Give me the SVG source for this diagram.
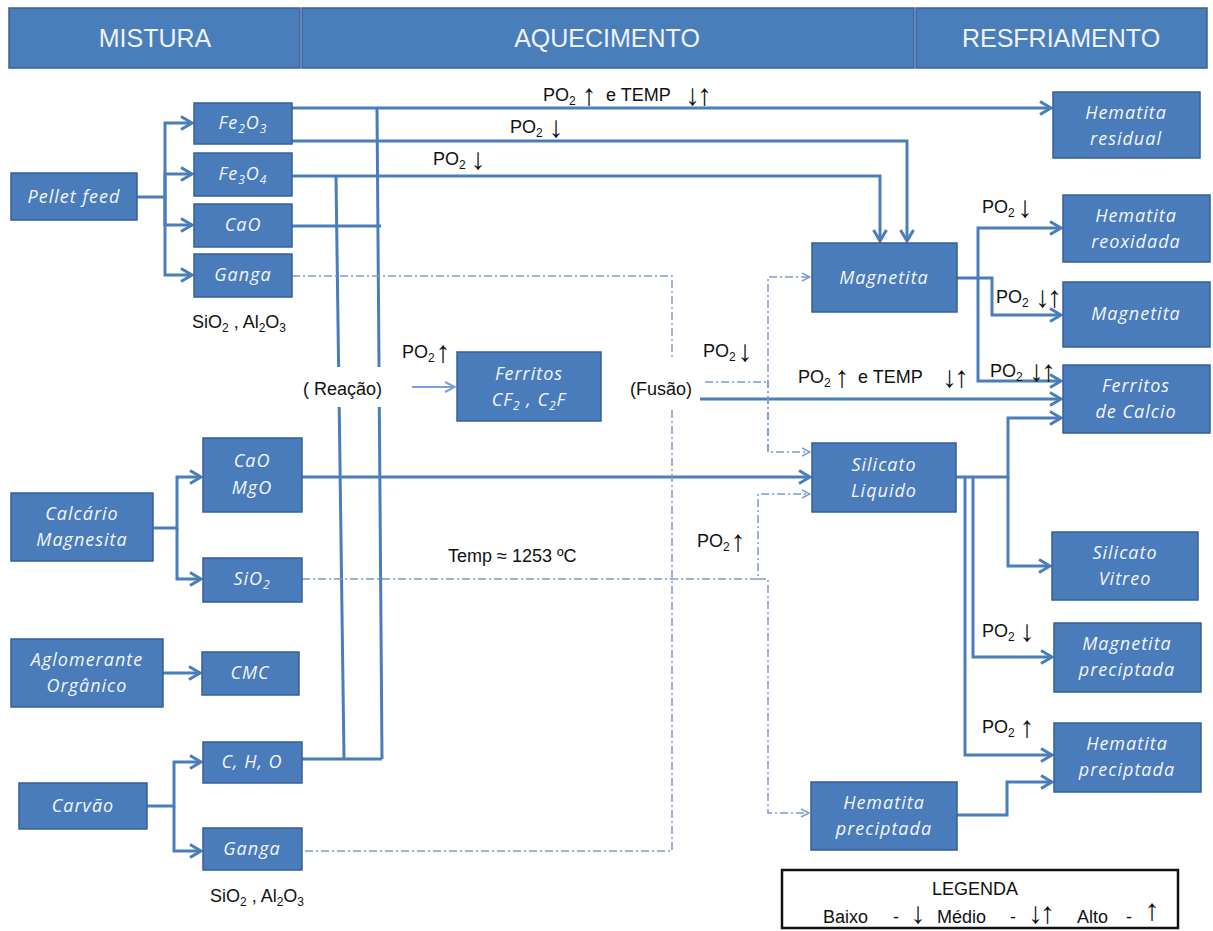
<svg xmlns="http://www.w3.org/2000/svg" width="1213" height="931" viewBox="0 0 1213 931">
<style>
.hdr{fill:#4a7ebb;stroke:#3a6298;stroke-width:1.5}
.hdrt{font-family:"Liberation Sans",Arial,sans-serif;font-size:25px;fill:#eef3fb;text-anchor:middle}
.box{fill:#4a7cbc;stroke:#36609a;stroke-width:1.5}
.bt{font-family:"Open Sans","Noto Sans",sans-serif;font-style:italic;font-size:18px;letter-spacing:1px;fill:#f2f6fc;text-anchor:middle}
.lbl{font-family:"Liberation Sans","DejaVu Sans",sans-serif;font-size:18px;fill:#111}
.ar{font-family:"Liberation Sans","DejaVu Sans",sans-serif;font-size:30px;text-anchor:middle;fill:#111}
.ln{fill:none;stroke:#4a7ebb;stroke-width:3}
.la{fill:none;stroke:#4a7ebb;stroke-width:3;marker-end:url(#arr)}
.dd{fill:none;stroke:#7d9ccc;stroke-width:1.5;stroke-dasharray:8 3 2 3}
.da{fill:none;stroke:#7d9ccc;stroke-width:1.5;stroke-dasharray:8 3 2 3;marker-end:url(#arrd)}
</style>
<defs>
<marker id="arr" markerUnits="userSpaceOnUse" viewBox="0 0 16 16" refX="13" refY="8" markerWidth="16" markerHeight="16" orient="auto"><path d="M2,1.5 L13,8 L2,14.5" fill="none" stroke="#4a7ebb" stroke-width="3"/></marker>
<marker id="arrd" markerUnits="userSpaceOnUse" viewBox="0 0 10 10" refX="9" refY="5" markerWidth="10" markerHeight="10" orient="auto"><path d="M1,1 L9,5 L1,9" fill="none" stroke="#7d9ccc" stroke-width="1.4"/></marker>
<marker id="arrt" markerUnits="userSpaceOnUse" viewBox="0 0 12 12" refX="11" refY="6" markerWidth="12" markerHeight="12" orient="auto"><path d="M1,1 L11,6 L1,11" fill="none" stroke="#7b9fd6" stroke-width="2"/></marker>
</defs>
<rect width="1213" height="931" fill="#ffffff"/>

<g id="header">
<rect class="hdr" x="9" y="8" width="291" height="60"/>
<rect class="hdr" x="302" y="8" width="612" height="60"/>
<rect class="hdr" x="916" y="8" width="291" height="60"/>
<text class="hdrt" x="155" y="47">MISTURA</text>
<text class="hdrt" x="607" y="47">AQUECIMENTO</text>
<text class="hdrt" x="1061" y="47">RESFRIAMENTO</text>
</g>

<g id="connectors">
<path class="la" d="M137,197 H165 V123 H192"/>
<path class="la" d="M165,197 V174 H192"/>
<path class="la" d="M165,197 V225 H192"/>
<path class="la" d="M165,197 V275 H192"/>
<path class="la" d="M153,528 H177 V477 H201"/>
<path class="la" d="M177,528 V579 H201"/>
<path class="la" d="M163,673 H200"/>
<path class="la" d="M147,806 H174 V762 H201"/>
<path class="la" d="M174,806 V851 H201"/>
<path class="la" d="M292,108 H1051"/>
<path class="la" d="M292,141 H907 V241"/>
<path class="la" d="M292,176 H880 V241"/>
<path class="ln" d="M292,226 H381"/>
<path class="ln" d="M336,176 L338.6,367"/>
<path class="ln" d="M339.2,407 L344,759"/>
<path class="ln" d="M377,108 L379,367"/>
<path class="ln" d="M379.3,407 L382,759"/>
<path class="ln" d="M302,759 H382"/>
<path fill="none" stroke="#7b9fd6" stroke-width="2" marker-end="url(#arrt)" d="M412,387 H455"/>
<path class="la" d="M302,477 H810"/>
<path class="la" d="M700,399 H1061"/>
<path class="la" d="M957,278 H978 V228 H1061"/>
<path class="la" d="M978,278 V381 H1061"/>
<path class="la" d="M978,278 H992 V315 H1061"/>
<path class="la" d="M956,477 H1008 V418 H1061"/>
<path class="la" d="M1008,477 V566 H1050"/>
<path class="la" d="M973,477 V657 H1052"/>
<path class="la" d="M965,477 V755 H1052"/>
<path class="la" d="M957,815 H1007 V782 H1052"/>
<path class="dd" d="M292,276 H672 V358"/>
<path class="dd" d="M672,410 V851 H302"/>
<path class="dd" d="M705,382 H768"/>
<path class="da" d="M768,452 V277 H810"/>
<path class="da" d="M768,380 V452 H810"/>
<path class="da" d="M302,579 H758 V494 H810"/>
<path class="da" d="M758,579 H768 V813 H809"/>
</g>

<g id="node-pellet"><rect class="box" x="11" y="173" width="126" height="47"/><text class="bt" x="74" y="203">Pellet feed</text></g>
<g id="node-fe2o3"><rect class="box" x="194" y="103" width="98" height="41"/><text class="bt" x="243" y="129">Fe<tspan font-size="12" dy="4">2</tspan><tspan dy="-4">O</tspan><tspan font-size="12" dy="4">3</tspan></text></g>
<g id="node-fe3o4"><rect class="box" x="194" y="153" width="98" height="43"/><text class="bt" x="243" y="180">Fe<tspan font-size="12" dy="4">3</tspan><tspan dy="-4">O</tspan><tspan font-size="12" dy="4">4</tspan></text></g>
<g id="node-cao"><rect class="box" x="194" y="204" width="98" height="43"/><text class="bt" x="243" y="231">CaO</text></g>
<g id="node-ganga1"><rect class="box" x="194" y="254" width="98" height="43"/><text class="bt" x="243" y="281">Ganga</text></g>
<g id="node-calcario"><rect class="box" x="11" y="493" width="142" height="68"/><text class="bt" x="82" y="520">Calcário</text><text class="bt" x="82" y="546">Magnesita</text></g>
<g id="node-caomgo"><rect class="box" x="203" y="438" width="99" height="74"/><text class="bt" x="252" y="467">CaO</text><text class="bt" x="252" y="494">MgO</text></g>
<g id="node-sio2"><rect class="box" x="203" y="558" width="99" height="44"/><text class="bt" x="252" y="585">SiO<tspan font-size="12" dy="4">2</tspan></text></g>
<g id="node-aglomerante"><rect class="box" x="11" y="639" width="152" height="68"/><text class="bt" x="87" y="666">Aglomerante</text><text class="bt" x="87" y="692">Orgânico</text></g>
<g id="node-cmc"><rect class="box" x="202" y="652" width="97" height="43"/><text class="bt" x="250" y="679">CMC</text></g>
<g id="node-carvao"><rect class="box" x="19" y="783" width="128" height="46"/><text class="bt" x="83" y="812">Carvão</text></g>
<g id="node-cho"><rect class="box" x="203" y="742" width="99" height="41"/><text class="bt" x="252" y="768">C, H, O</text></g>
<g id="node-ganga2"><rect class="box" x="203" y="828" width="99" height="42"/><text class="bt" x="252" y="855">Ganga</text></g>
<g id="node-ferritos"><rect class="box" x="457" y="352" width="144" height="69"/><text class="bt" x="529" y="380">Ferritos</text><text class="bt" x="529" y="406">CF<tspan font-size="12" dy="4">2</tspan><tspan dy="-4"> , C</tspan><tspan font-size="12" dy="4">2</tspan><tspan dy="-4">F</tspan></text></g>
<g id="node-magnetita"><rect class="box" x="812" y="243" width="145" height="69"/><text class="bt" x="884" y="284">Magnetita</text></g>
<g id="node-silicato"><rect class="box" x="812" y="443" width="144" height="69"/><text class="bt" x="884" y="471">Silicato</text><text class="bt" x="884" y="497">Liquido</text></g>
<g id="node-hemprec-mid"><rect class="box" x="811" y="782" width="146" height="68"/><text class="bt" x="884" y="809">Hematita</text><text class="bt" x="884" y="835">preciptada</text></g>
<g id="node-hemres"><rect class="box" x="1053" y="92" width="147" height="66"/><text class="bt" x="1126" y="119">Hematita</text><text class="bt" x="1126" y="145">residual</text></g>
<g id="node-hemreox"><rect class="box" x="1063" y="195" width="147" height="67"/><text class="bt" x="1136" y="222">Hematita</text><text class="bt" x="1136" y="248">reoxidada</text></g>
<g id="node-magright"><rect class="box" x="1063" y="282" width="147" height="65"/><text class="bt" x="1136" y="320">Magnetita</text></g>
<g id="node-ferrcalcio"><rect class="box" x="1063" y="365" width="147" height="68"/><text class="bt" x="1136" y="392">Ferritos</text><text class="bt" x="1136" y="418">de Calcio</text></g>
<g id="node-silvitreo"><rect class="box" x="1052" y="532" width="146" height="68"/><text class="bt" x="1125" y="559">Silicato</text><text class="bt" x="1125" y="585">Vitreo</text></g>
<g id="node-magprec"><rect class="box" x="1054" y="623" width="147" height="69"/><text class="bt" x="1127" y="650">Magnetita</text><text class="bt" x="1127" y="676">preciptada</text></g>
<g id="node-hemprec"><rect class="box" x="1054" y="723" width="147" height="69"/><text class="bt" x="1127" y="750">Hematita</text><text class="bt" x="1127" y="776">preciptada</text></g>

<g id="labels">
<text class="lbl" x="239" y="328" text-anchor="middle">SiO<tspan font-size="12" dy="4">2</tspan><tspan dy="-4"> , Al</tspan><tspan font-size="12" dy="4">2</tspan><tspan dy="-4">O</tspan><tspan font-size="12" dy="4">3</tspan></text>
<text class="lbl" x="257" y="902" text-anchor="middle">SiO<tspan font-size="12" dy="4">2</tspan><tspan dy="-4"> , Al</tspan><tspan font-size="12" dy="4">2</tspan><tspan dy="-4">O</tspan><tspan font-size="12" dy="4">3</tspan></text>
<text class="lbl" y="101"><tspan x="543">PO</tspan><tspan font-size="12" dy="4">2</tspan><tspan class="ar" x="589" dy="0">↑</tspan><tspan x="606" dy="-4">e TEMP</tspan><tspan class="ar" x="697" dy="4" letter-spacing="-3">↓↑</tspan></text>
<text class="lbl" y="133"><tspan x="510">PO</tspan><tspan font-size="12" dy="4">2</tspan><tspan class="ar" x="556">↓</tspan></text>
<text class="lbl" y="165"><tspan x="433">PO</tspan><tspan font-size="12" dy="4">2</tspan><tspan class="ar" x="478">↓</tspan></text>
<text class="lbl" y="358"><tspan x="402">PO</tspan><tspan font-size="12" dy="4">2</tspan><tspan class="ar" x="443">↑</tspan></text>
<text class="lbl" x="303" y="395">( Reação)</text>
<text class="lbl" x="630" y="395">(Fusão)</text>
<text class="lbl" y="357"><tspan x="703">PO</tspan><tspan font-size="12" dy="4">2</tspan><tspan class="ar" x="745">↓</tspan></text>
<text class="lbl" y="383"><tspan x="798">PO</tspan><tspan font-size="12" dy="4">2</tspan><tspan class="ar" x="842">↑</tspan><tspan x="858" dy="-4">e TEMP</tspan><tspan class="ar" x="954" dy="4" letter-spacing="-3">↓↑</tspan></text>
<text class="lbl" y="377"><tspan x="990">PO</tspan><tspan font-size="12" dy="4">2</tspan><tspan class="ar" x="1041" letter-spacing="-3">↓↑</tspan></text>
<text class="lbl" y="213"><tspan x="982">PO</tspan><tspan font-size="12" dy="4">2</tspan><tspan class="ar" x="1025">↓</tspan></text>
<text class="lbl" y="303"><tspan x="996">PO</tspan><tspan font-size="12" dy="4">2</tspan><tspan class="ar" x="1047" letter-spacing="-3">↓↑</tspan></text>
<text class="lbl" y="547"><tspan x="697">PO</tspan><tspan font-size="12" dy="4">2</tspan><tspan class="ar" x="738">↑</tspan></text>
<text class="lbl" x="448" y="562">Temp ≈ 1253 ºC</text>
<text class="lbl" y="637"><tspan x="982">PO</tspan><tspan font-size="12" dy="4">2</tspan><tspan class="ar" x="1027">↓</tspan></text>
<text class="lbl" y="733"><tspan x="982">PO</tspan><tspan font-size="12" dy="4">2</tspan><tspan class="ar" x="1027">↑</tspan></text>
</g>

<g id="legend">
<rect x="782" y="870" width="396" height="58" fill="#ffffff" stroke="#111" stroke-width="2.5"/>
<text class="lbl" x="975" y="895" text-anchor="middle" font-size="17">LEGENDA</text>
<text class="lbl" y="923" font-size="17"><tspan x="823">Baixo</tspan><tspan x="893">-</tspan><tspan class="ar" x="918">↓</tspan><tspan x="937">Médio</tspan><tspan x="1010">-</tspan><tspan class="ar" x="1040" letter-spacing="-3">↓↑</tspan><tspan x="1077">Alto</tspan><tspan x="1126">-</tspan><tspan class="ar" x="1152" dy="-3">↑</tspan></text>
</g>
</svg>
